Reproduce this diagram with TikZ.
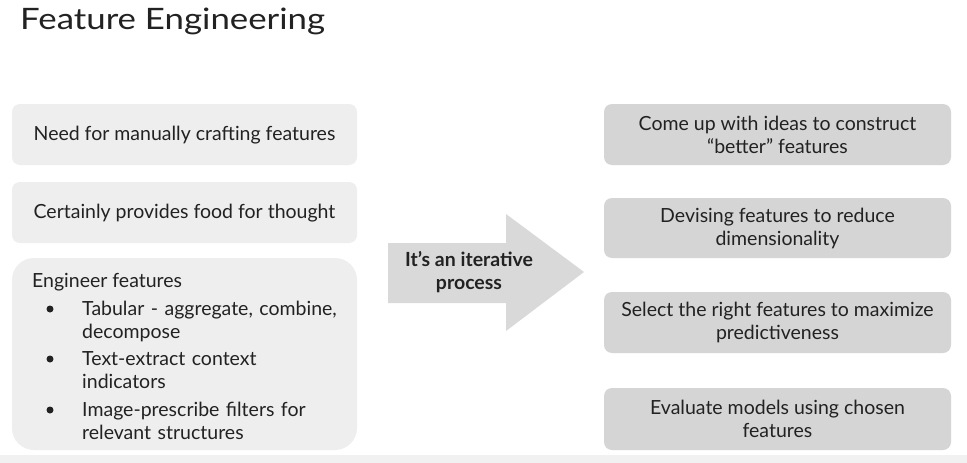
\documentclass[tikz,border=0pt]{standalone}
\usepackage{fontspec}
\setmainfont{Lato}
\newfontfamily\titlefont[FakeStretch=1.18]{Lato}
\definecolor{lbox}{HTML}{EEEEEE}
\definecolor{rbox}{HTML}{D5D5D5}
\definecolor{arr}{HTML}{D9D9D9}
\definecolor{txt}{HTML}{222222}
\begin{document}
\begin{tikzpicture}[x=1pt,y=-1pt,
  lboxst/.style={fill=lbox,draw=none,rounded corners=8pt},
  rboxst/.style={fill=rbox,draw=none,rounded corners=8pt},
  body/.style={font=\fontsize{19.5}{23}\selectfont,text=txt,inner sep=0pt},
  ctr/.style={body,align=center},
  bul/.style={body,anchor=base west,align=left,text width=270pt},
  dot/.style={circle,fill=txt,inner sep=0pt,minimum size=7pt}]
\useasboundingbox (0,0) rectangle (967,463);
\fill[white] (0,0) rectangle (967,463);
\fill[lbox!80] (0,455) rectangle (967,463);
% title
\node[anchor=base west,inner sep=0pt,text=txt,font=\titlefont\fontsize{29.5}{34}\selectfont] (title) at (20,30) {Feature Engineering};
% left boxes
\fill[lboxst] (12,104) rectangle (357,165);
\node[ctr] (l1) at (184.5,135) {Need for manually crafting features};
\fill[lboxst] (12,182) rectangle (357,243);
\node[ctr] (l2) at (184.5,213) {Certainly provides food for thought};
\fill[lbox,rounded corners=22pt] (12,258) rectangle (357,450);
\node[body,anchor=base west] (l3) at (32,287) {Engineer features};
\node[dot] (b1) at (50,309) {};
\node[bul] (i1) at (82,315) {Tabular - aggregate, combine,\\decompose};
\node[dot] (b2) at (50,359) {};
\node[bul] (i2) at (82,365) {Text-extract context\\indicators};
\node[dot] (b3) at (50,410) {};
\node[bul] (i3) at (82,416) {Image-prescribe filters for\\relevant structures};
% arrow
\fill[arr] (388,243) -- (506,243) -- (506,214) -- (584,272) -- (506,331) -- (506,303) -- (388,303) -- cycle;
\node[ctr,font=\bfseries\fontsize{19.5}{23}\selectfont] (arrtxt) at (469,272) {It’s an iterative\\process};
% right boxes
\fill[rboxst] (604,104) rectangle (951,165);
\node[ctr] (r1) at (777.5,135) {Come up with ideas to construct\\“better” features};
\fill[rboxst] (604,198) rectangle (951,258);
\node[ctr] (r2) at (777.5,228.5) {Devising features to reduce\\dimensionality};
\fill[rboxst] (604,292) rectangle (951,353);
\node[ctr] (r3) at (777.5,322.5) {Select the right features to maximize\\predictiveness};
\fill[rboxst] (604,388) rectangle (951,450);
\node[ctr] (r4) at (777.5,419) {Evaluate models using chosen\\features};
\end{tikzpicture}
\end{document}
